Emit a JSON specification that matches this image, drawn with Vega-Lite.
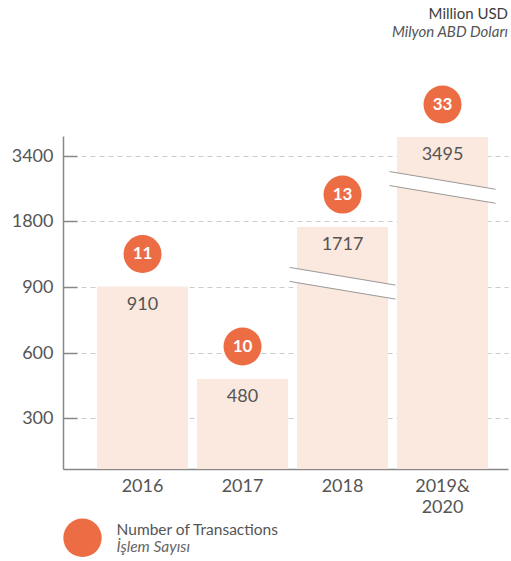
{
  "$schema": "https://vega.github.io/schema/vega-lite/v6.json",
  "autosize": {"type": "none"},
  "width": 445,
  "height": 313,
  "padding": {"left": 63, "top": 156, "right": 3, "bottom": 92},
  "title": {
    "text": "Million USD",
    "subtitle": "Milyon ABD Doları",
    "anchor": "end",
    "frame": "group",
    "fontSize": 15,
    "fontWeight": "normal",
    "color": "#3d3d3d",
    "subtitleFontSize": 15,
    "subtitleFontStyle": "italic",
    "subtitleColor": "#555555",
    "subtitlePadding": 3,
    "offset": 46
  },
  "config": {
    "font": "Lato",
    "view": {"stroke": null}
  },
  "data": {
    "values": [
      {"year": "2016", "value": 910, "transactions": 11},
      {"year": "2017", "value": 480, "transactions": 10},
      {"year": "2018", "value": 1717, "transactions": 13, "brk": 955},
      {"year": "2019&2020", "value": 3495, "transactions": 33, "brk": 2627}
    ]
  },
  "encoding": {
    "x": {
      "field": "year",
      "type": "nominal",
      "sort": null,
      "scale": {"paddingInner": 0.09, "paddingOuter": 0.27, "align": 0.63},
      "axis": {
        "title": null,
        "labelAngle": 0,
        "ticks": false,
        "domainColor": "#888888",
        "domainWidth": 1.5,
        "labelFontSize": 18,
        "labelColor": "#555555",
        "labelPadding": 8,
        "labelLineHeight": 21,
        "labelExpr": "split(replace(datum.value, '&', '&\\n'), '\\n')"
      }
    }
  },
  "layer": [
    {
      "mark": {"type": "bar", "color": "#FBE8DE"},
      "encoding": {
        "y": {
          "field": "value",
          "type": "quantitative",
          "scale": {
            "domain": [0, 300, 600, 900, 1800, 3400, 3500],
            "range": [313, 262, 197, 131.3, 65, 0, -20],
            "nice": false,
            "zero": false
          },
          "axis": {
            "title": null,
            "values": [300, 600, 900, 1800, 3400],
            "format": "d",
            "grid": true,
            "gridDash": [5, 4],
            "gridColor": "#cccccc",
            "gridWidth": 1,
            "tickSize": -14,
            "tickColor": "#888888",
            "tickWidth": 1.5,
            "domainColor": "#888888",
            "domainWidth": 1.5,
            "labelPadding": 24,
            "labelFontSize": 18,
            "labelColor": "#555555"
          }
        }
      }
    },
    {
      "transform": [{"filter": "isValid(datum.brk)"}],
      "mark": {"type": "rule", "color": "white", "strokeWidth": 13, "xOffset": -53, "x2Offset": 53, "yOffset": -8.85, "y2Offset": 8.85},
      "encoding": {
        "x2": {"field": "year"},
        "y": {"field": "brk", "type": "quantitative"},
        "y2": {"field": "brk"},
        "strokeDash": {
          "datum": "İşlem Sayısı",
          "scale": {"range": [[1, 0]]},
          "legend": {
            "orient": "none",
            "legendX": 0,
            "legendY": 371,
            "title": null,
            "padding": 0,
            "symbolSize": 1475,
            "symbolOpacity": 0,
            "symbolStrokeWidth": 0,
            "labelOffset": 14.6,
            "labelLimit": 400,
            "labelFontSize": 15.5,
            "labelFontStyle": "italic",
            "labelColor": "#666666",
            "labelBaseline": "middle"
          }
        }
      }
    },
    {
      "transform": [{"filter": "isValid(datum.brk)"}],
      "mark": {"type": "rule", "color": "#9a9a9a", "strokeWidth": 1, "xOffset": -53, "x2Offset": 53, "yOffset": -15.85, "y2Offset": 1.85},
      "encoding": {
        "x2": {"field": "year"},
        "y": {"field": "brk", "type": "quantitative"},
        "y2": {"field": "brk"}
      }
    },
    {
      "transform": [{"filter": "isValid(datum.brk)"}],
      "mark": {"type": "rule", "color": "#9a9a9a", "strokeWidth": 1, "xOffset": -53, "x2Offset": 53, "yOffset": -1.85, "y2Offset": 15.85},
      "encoding": {
        "x2": {"field": "year"},
        "y": {"field": "brk", "type": "quantitative"},
        "y2": {"field": "brk"}
      }
    },
    {
      "mark": {"type": "text", "fontSize": 18, "color": "#555555", "baseline": "middle", "yOffset": 18},
      "encoding": {
        "y": {"field": "value", "type": "quantitative"},
        "text": {"field": "value", "type": "quantitative", "format": "d"}
      }
    },
    {
      "mark": {"type": "circle", "size": 1444, "opacity": 1, "yOffset": -32.5},
      "encoding": {
        "y": {"field": "value", "type": "quantitative"},
        "color": {
          "datum": "Number of Transactions",
          "scale": {"range": ["#EC6C43"]},
          "legend": {
            "orient": "none",
            "legendX": 0,
            "legendY": 362.3,
            "title": null,
            "padding": 0,
            "symbolSize": 1475,
            "symbolType": "circle",
            "symbolOpacity": 1,
            "symbolStrokeWidth": 0,
            "labelOffset": 14.6,
            "labelLimit": 400,
            "labelFontSize": 15.5,
            "labelColor": "#555555",
            "labelBaseline": "bottom"
          }
        }
      }
    },
    {
      "mark": {"type": "text", "fontSize": 17, "fontWeight": "bold", "color": "white", "baseline": "middle", "yOffset": -32.5},
      "encoding": {
        "y": {"field": "value", "type": "quantitative"},
        "text": {"field": "transactions", "type": "quantitative"}
      }
    }
  ]
}
